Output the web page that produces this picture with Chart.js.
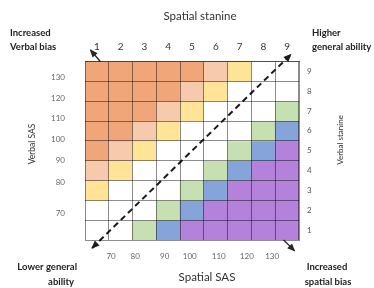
<!DOCTYPE html>
<html>
<head>
<meta charset="utf-8">
<script src="https://cdn.jsdelivr.net/npm/chart.js@4"></script>
<style>
  html, body { margin: 0; padding: 0; background: #fff; }
</style>
</head>
<body>
<canvas id="chart" width="374" height="288"></canvas>
<script>
// Spatial stanine columns (left to right) and verbal stanine rows (top to bottom)
const spatialStanines = ['1', '2', '3', '4', '5', '6', '7', '8', '9'];
const verbalStanines = [9, 8, 7, 6, 5, 4, 3, 2, 1];

// Band of each cell: O strong verbal, P, Y, W even, G, B, U strong spatial
const cellBands = [
    ['O', 'O', 'O', 'O', 'O', 'P', 'Y', 'W', 'W'],
    ['O', 'O', 'O', 'O', 'P', 'Y', 'W', 'W', 'W'],
    ['O', 'O', 'O', 'P', 'Y', 'W', 'W', 'W', 'G'],
    ['O', 'O', 'P', 'Y', 'W', 'W', 'W', 'G', 'B'],
    ['O', 'P', 'Y', 'W', 'W', 'W', 'G', 'B', 'U'],
    ['P', 'Y', 'W', 'W', 'W', 'G', 'B', 'U', 'U'],
    ['Y', 'W', 'W', 'W', 'G', 'B', 'U', 'U', 'U'],
    ['W', 'W', 'W', 'G', 'B', 'U', 'U', 'U', 'U'],
    ['W', 'W', 'G', 'B', 'U', 'U', 'U', 'U', 'U']
];

// SAS tick labels and the stanine value each one sits at
const sasTicks = [70, 80, 90, 100, 110, 120, 130];
const spatialSasAt = [1.03, 2.21, 3.66, 4.89, 6.31, 7.69, 8.93];
const verbalSasAt = [1.85, 3.39, 4.49, 5.58, 6.64, 7.65, 8.69];

// Diagonal (equal ability) line and the two corner arrows, in stanine units
const diagonalEnds = [0.1, 9.85];
const arrowTopLeft = [[0.5, 9.5], [0.02, 10.08]];
const arrowBottomRight = [[9.5, 0.5], [10.03, -0.05]];

const bandColors = {
    O: '#F1A679', P: '#F7C9AD', Y: '#FFE396', W: '#FFFFFF',
    G: '#C6E0B2', B: '#86A4DA', U: '#B482DA'
};
const gridCol = 'rgba(0,0,0,0.45)';
const fontFam = 'Lato, "Open Sans", sans-serif';

const datasets = [];

datasets.push({
    type: 'line', xAxisID: 'xSas', yAxisID: 'ySas', order: 0,
    data: diagonalEnds.map(v => ({ x: v, y: v })),
    borderColor: '#1a1a1a', borderWidth: 2, borderDash: [6, 4],
    pointRadius: 0, clip: false, fill: false, arrowEnds: 'both'
});
[arrowTopLeft, arrowBottomRight].forEach(a => {
    datasets.push({
        type: 'line', xAxisID: 'xSas', yAxisID: 'ySas', order: 0,
        data: a.map(p => ({ x: p[0], y: p[1] })),
        borderColor: '#262626', borderWidth: 1.3,
        pointRadius: 0, clip: false, fill: false, arrowEnds: 'end'
    });
});

verbalStanines.forEach((v, i) => {
    datasets.push({
        type: 'bar', xAxisID: 'x', yAxisID: 'ySas', order: 1,
        data: spatialStanines.map(() => [v - 0.5, v + 0.5]),
        backgroundColor: cellBands[i].map(b => bandColors[b]),
        borderWidth: 0, barPercentage: 1, categoryPercentage: 1, grouped: false
    });
});

function drawHead(ctx, from, to, color) {
    const ang = Math.atan2(to.y - from.y, to.x - from.x);
    const len = 7, half = 3.4;
    ctx.save();
    ctx.fillStyle = color;
    ctx.translate(to.x, to.y);
    ctx.rotate(ang);
    ctx.beginPath();
    ctx.moveTo(1, 0);
    ctx.lineTo(-len, -half);
    ctx.lineTo(-len, half);
    ctx.closePath();
    ctx.fill();
    ctx.restore();
}

const arrowHeads = {
    id: 'arrowHeads',
    afterDraw(chart) {
        const ctx = chart.ctx;
        chart.data.datasets.forEach((ds, i) => {
            if (!ds.arrowEnds) return;
            const pts = chart.getDatasetMeta(i).data;
            const a = pts[0], b = pts[pts.length - 1];
            drawHead(ctx, a, b, ds.borderColor);
            if (ds.arrowEnds === 'both') drawHead(ctx, b, a, ds.borderColor);
        });
    }
};

const notes = {
    id: 'notes',
    afterDraw(chart) {
        const ctx = chart.ctx;
        const area = chart.chartArea;
        const mid = (area.left + area.right) / 2;
        ctx.save();
        ctx.textBaseline = 'middle';
        ctx.fillStyle = '#333';

        // axis titles
        ctx.font = '11.5px ' + fontFam;
        ctx.textAlign = 'center';
        ctx.fillText('Spatial stanine', mid + 8, 16);
        ctx.fillText('Spatial SAS', mid + 15, 277);

        ctx.font = '8.5px ' + fontFam;
        ctx.save();
        ctx.translate(32, 144);
        ctx.rotate(-Math.PI / 2);
        ctx.fillText('Verbal SAS', 0, 0);
        ctx.restore();
        ctx.font = '8px ' + fontFam;
        ctx.save();
        ctx.translate(340, 140);
        ctx.rotate(-Math.PI / 2);
        ctx.fillText('Verbal stanine', 0, 0);
        ctx.restore();

        // corner notes
        ctx.font = 'bold 9.5px ' + fontFam;
        ctx.fillStyle = '#222';
        ctx.textAlign = 'left';
        ctx.fillText('Increased', 10, 33);
        ctx.fillText('Verbal bias', 10, 47);
        ctx.fillText('Higher', 312, 33);
        ctx.fillText('general ability', 312, 47);
        ctx.textAlign = 'right';
        ctx.fillText('Lower general', 77, 267);
        ctx.fillText('ability', 74, 282);
        ctx.textAlign = 'center';
        ctx.fillText('Increased', 327, 267);
        ctx.fillText('spatial bias', 328, 282);
        ctx.restore();
    }
};

new Chart(document.getElementById('chart'), {
    type: 'bar',
    data: { labels: spatialStanines, datasets: datasets },
    options: {
        responsive: false,
        animation: false,
        layout: { padding: 0 },
        plugins: { legend: { display: false }, tooltip: { enabled: false } },
        scales: {
            x: {
                type: 'category', position: 'top', offset: true,
                grid: { offset: true, color: gridCol, drawTicks: false, z: 1 },
                border: { color: gridCol, z: 1 },
                ticks: { padding: 9, color: '#333', font: { family: fontFam, size: 10 }, maxRotation: 0 },
                afterFit(s) { s.height = 61.5; }
            },
            xSas: {
                type: 'linear', position: 'bottom', min: 0.5, max: 9.5,
                grid: { display: false }, border: { display: false },
                afterBuildTicks(s) { s.ticks = spatialSasAt.map(v => ({ value: v })); },
                ticks: {
                    autoSkip: false, maxRotation: 0, padding: 4, color: '#666',
                    font: { family: fontFam, size: 8 },
                    callback: (v, i) => sasTicks[i]
                },
                afterFit(s) { s.height = 48; }
            },
            y: {
                type: 'category', position: 'right', offset: true,
                labels: verbalStanines.map(String),
                grid: { offset: true, color: gridCol, drawTicks: false, z: 1 },
                border: { color: gridCol, z: 1 },
                ticks: { padding: 8, color: '#555', font: { family: fontFam, size: 8 } },
                afterFit(s) { s.width = 75; }
            },
            ySas: {
                type: 'linear', position: 'left', min: 0.5, max: 9.5,
                grid: { display: false }, border: { display: false },
                afterBuildTicks(s) { s.ticks = verbalSasAt.map(v => ({ value: v })); },
                ticks: {
                    autoSkip: false, padding: 12, color: '#666',
                    font: { family: fontFam, size: 8 },
                    callback: (v, i) => sasTicks[i]
                },
                afterFit(s) { s.width = 85; }
            }
        }
    },
    plugins: [arrowHeads, notes]
});
</script>
</body>
</html>
